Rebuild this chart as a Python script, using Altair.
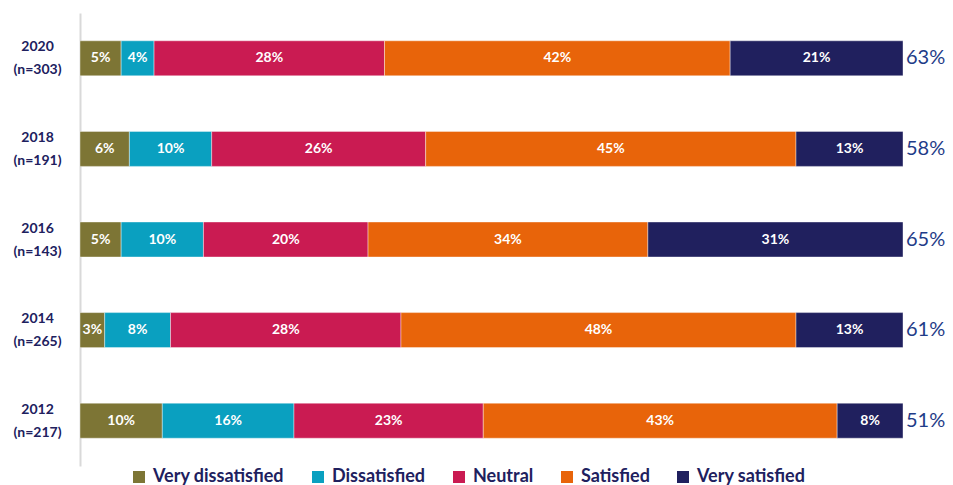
import altair as alt
import pandas as pd

years = ["2020|(n=303)", "2018|(n=191)", "2016|(n=143)", "2014|(n=265)", "2012|(n=217)"]
categories = ["Very dissatisfied", "Dissatisfied", "Neutral", "Satisfied", "Very satisfied"]
colors = ["#7D7535", "#0AA0C0", "#CA1B52", "#E8640A", "#20205E"]
very_dissatisfied = [5, 6, 5, 3, 10]
dissatisfied = [4, 10, 10, 8, 16]
neutral = [28, 26, 20, 28, 23]
satisfied = [42, 45, 34, 48, 43]
very_satisfied = [21, 13, 31, 13, 8]
totals = ["63%", "58%", "65%", "61%", "51%"]

series = [very_dissatisfied, dissatisfied, neutral, satisfied, very_satisfied]
rows = []
for ci, (cat, vals) in enumerate(zip(categories, series)):
    for yi, y in enumerate(years):
        rows.append({"year": y, "cat": cat, "order": ci, "value": vals[yi]})
df = pd.DataFrame(rows)
tot_df = pd.DataFrame({"year": years, "total": totals, "end": [100] * len(years)})

FONT = "Lato"
NAVY = "#20205E"

base = alt.Chart(df).transform_stack(
    stack="value", groupby=["year"], sort=[{"field": "order", "order": "ascending"}],
    as_=["x0", "x1"]
).transform_calculate(mid="(datum.x0 + datum.x1) / 2", label="datum.value + '%'")

yenc = alt.Y("year:N", sort=years, title=None,
             axis=alt.Axis(labelExpr="split(datum.value, '|')", labelAlign="center",
                           labelPadding=43, labelFontSize=14, labelFont=FONT,
                           labelFontWeight="bold", labelColor=NAVY, labelLineHeight=23,
                           labelOffset=-11,
                           ticks=False, domainColor="#D9D9D9", domainWidth=2,
                           grid=False, labelBaseline="middle"))

xscale = alt.Scale(domain=[0, 100], nice=False, zero=True)

bars = base.mark_bar(size=35, stroke="white", strokeWidth=0.4).encode(
    x=alt.X("x0:Q", scale=xscale, axis=None),
    x2="x1:Q",
    y=yenc,
    color=alt.Color("cat:N", sort=categories,
                    scale=alt.Scale(domain=categories, range=colors),
                    legend=alt.Legend(orient="none", legendX=50, legendY=455,
                                      direction="horizontal", title=None,
                                      symbolType="square", symbolSize=144,
                                      symbolStrokeWidth=0,
                                      labelFont=FONT, labelFontSize=18,
                                      labelFontWeight="bold", labelColor=NAVY,
                                      columnPadding=24, labelOffset=5)),
)

texts = base.mark_text(color="white", font=FONT, fontWeight="bold", fontSize=14,
                       baseline="middle").encode(
    x=alt.X("mid:Q", scale=xscale),
    y=alt.Y("year:N", sort=years),
    text="label:N",
)

tot = alt.Chart(tot_df).mark_text(align="left", dx=3, baseline="middle", font=FONT,
                                  fontSize=20, color="#1F3C88").encode(
    x=alt.X("end:Q", scale=xscale),
    y=alt.Y("year:N", sort=years),
    text="total:N",
)

chart = alt.layer(bars, texts, tot).properties(
    width=823, height=453,
    autosize=alt.AutoSizeParams(type="none"),
    padding={"left": 72, "top": 5, "right": 42, "bottom": 22},
).configure_view(stroke=None)

chart.save("out.html", embed_options={"renderer": "svg", "actions": False})
